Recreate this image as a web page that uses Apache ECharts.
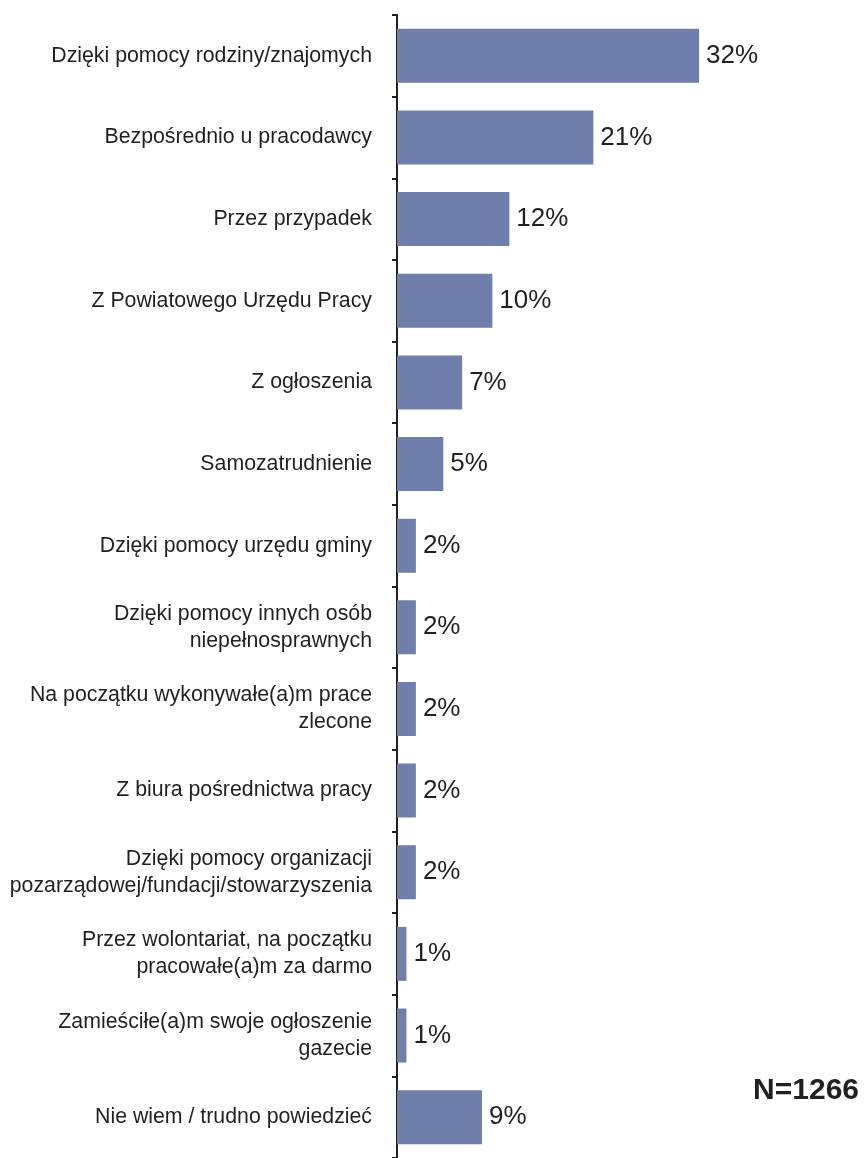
<!DOCTYPE html>
<html>
<head>
<meta charset="utf-8">
<style>html,body{margin:0;padding:0;background:#fff;}#c{width:864px;height:1158px;}</style>
<script src="https://cdn.jsdelivr.net/npm/echarts@6/dist/echarts.min.js"></script>
</head>
<body>
<div id="c"></div>
<script>
const categories = [
  "Dzięki pomocy rodziny/znajomych",
  "Bezpośrednio u pracodawcy",
  "Przez przypadek",
  "Z Powiatowego Urzędu Pracy",
  "Z ogłoszenia",
  "Samozatrudnienie",
  "Dzięki pomocy urzędu gminy",
  "Dzięki pomocy innych osób\nniepełnosprawnych",
  "Na początku wykonywałe(a)m prace\nzlecone",
  "Z biura pośrednictwa pracy",
  "Dzięki pomocy organizacji\npozarządowej/fundacji/stowarzyszenia",
  "Przez wolontariat, na początku\npracowałe(a)m za darmo",
  "Zamieściłe(a)m swoje ogłoszenie\ngazecie",
  "Nie wiem / trudno powiedzieć"
];
const values = [32, 20.8, 11.9, 10.1, 6.9, 4.9, 2, 2, 2, 2, 2, 1, 1, 9];
const valueLabels = ["32%", "21%", "12%", "10%", "7%", "5%", "2%", "2%", "2%", "2%", "2%", "1%", "1%", "9%"];
const noteText = "N=1266";

const FONT = "'Liberation Sans', Arial, sans-serif";
const chart = echarts.init(document.getElementById('c'), null, {renderer: 'canvas'});
chart.setOption({
  animation: false,
  backgroundColor: '#ffffff',
  grid: {left: 397, top: 15, width: 377.6, height: 1148, containLabel: false},
  xAxis: {type: 'value', min: 0, max: 40, show: false},
  yAxis: {
    type: 'category',
    inverse: true,
    data: categories,
    axisLine: {show: true, lineStyle: {color: '#231f20', width: 2}},
    axisTick: {show: true, length: 5, lineStyle: {color: '#231f20', width: 2}},
    axisLabel: {
      margin: 25,
      color: '#231f20',
      fontSize: 21.3,
      fontFamily: FONT,
      lineHeight: 27,
      align: 'right'
    },
    splitLine: {show: false}
  },
  series: [{
    type: 'bar',
    data: values,
    barWidth: 54,
    itemStyle: {color: '#6f7eaa'},
    label: {
      show: true,
      position: 'right',
      distance: 7,
      color: '#231f20',
      fontSize: 26,
      fontFamily: FONT,
      formatter: p => valueLabels[p.dataIndex]
    }
  }],
  graphic: [{
    type: 'text',
    right: 5,
    top: 1076,
    style: {text: noteText, font: "bold 30px 'Liberation Sans', Arial, sans-serif", fill: '#231f20'}
  }]
});
</script>
</body>
</html>
